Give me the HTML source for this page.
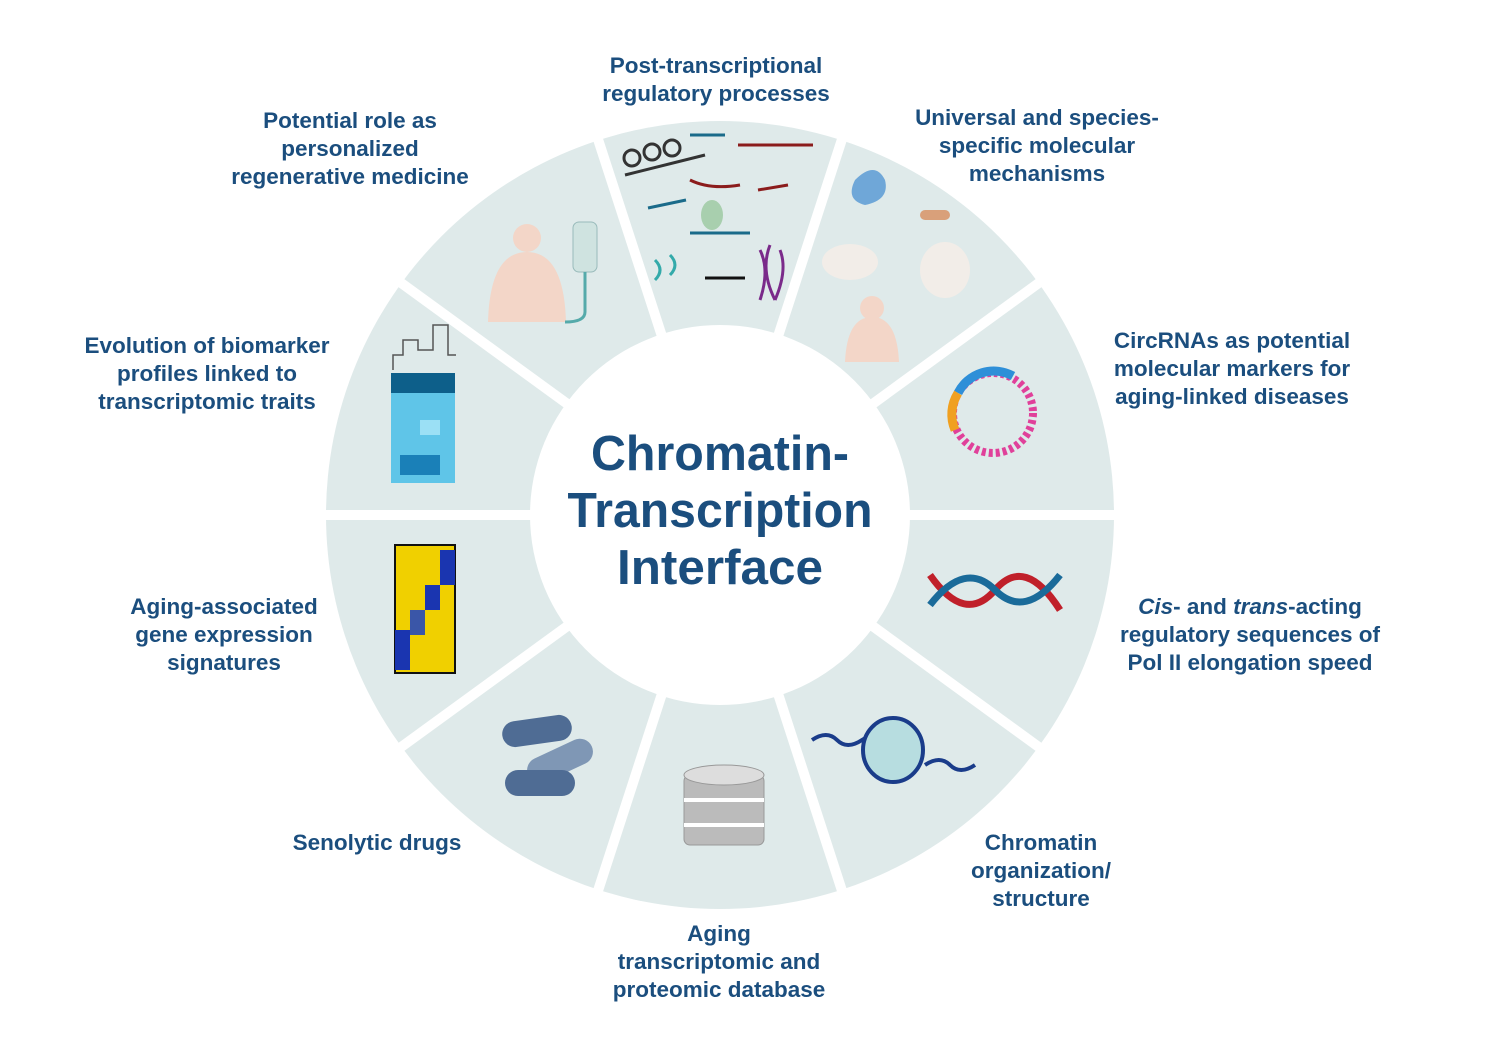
<!DOCTYPE html>
<html><head><meta charset="utf-8"><style>
body{margin:0;background:#fff;width:1500px;height:1050px;overflow:hidden;font-family:"Liberation Sans",sans-serif}
svg{position:absolute;left:0;top:0}
.l{position:absolute;color:#1b4e7e;font-weight:bold;font-size:22.5px;line-height:28px;text-align:center;white-space:nowrap;transform:translateX(-50%)}
</style></head><body>
<svg width="1500" height="1050" viewBox="0 0 1500 1050">
<circle cx="720" cy="515" r="394" fill="#dfeaea"/>
<g stroke="#fff" stroke-width="10">
<line x1="720" y1="515" x2="1125" y2="515"/><line x1="720" y1="515" x2="1047" y2="753"/>
<line x1="720" y1="515" x2="845" y2="900"/><line x1="720" y1="515" x2="595" y2="900"/>
<line x1="720" y1="515" x2="393" y2="753"/><line x1="720" y1="515" x2="315" y2="515"/>
<line x1="720" y1="515" x2="393" y2="277"/><line x1="720" y1="515" x2="595" y2="130"/>
<line x1="720" y1="515" x2="845" y2="130"/><line x1="720" y1="515" x2="1047" y2="277"/>
</g>
<circle cx="720" cy="515" r="190" fill="#fff"/>
<g font-size="49" font-weight="bold" fill="#1b4e7e" font-family="Liberation Sans" text-anchor="middle">
<text x="720" y="470" textLength="258" lengthAdjust="spacingAndGlyphs">Chromatin-</text>
<text x="720" y="527" textLength="305" lengthAdjust="spacingAndGlyphs">Transcription</text>
<text x="720" y="584" textLength="206" lengthAdjust="spacingAndGlyphs">Interface</text>
</g>
<g fill="none" stroke-width="3">
<path d="M625 175 l80 -20" stroke="#333"/><circle cx="632" cy="158" r="8" stroke="#333"/><circle cx="652" cy="152" r="8" stroke="#333"/><circle cx="672" cy="148" r="8" stroke="#333"/>
<path d="M690 135 h35" stroke="#1a6b8a"/><path d="M738 145 h75" stroke="#8b1c1c"/>
<path d="M690 180 q20 10 50 5" stroke="#8b1c1c"/><path d="M648 208 l38 -8" stroke="#1a6b8a"/>
<path d="M690 233 h60" stroke="#1a6b8a"/><path d="M705 278 h40" stroke="#111"/>
<path d="M760 250 q10 20 0 50 M770 245 q-10 25 5 55 M780 250 q8 20 -5 50" stroke="#7a2a8a"/>
<path d="M655 260 q10 10 0 20 M670 255 q10 10 0 20" stroke="#3aa"/>
<path d="M758 190 l30 -5" stroke="#8b1c1c"/>
</g>
<ellipse cx="712" cy="215" rx="11" ry="15" fill="#a8cfae"/>
<path d="M855 180 q20 -20 30 0 q5 20 -20 25 q-20 -5 -10 -25" fill="#6fa7d8"/>
<rect x="920" y="210" width="30" height="10" rx="5" fill="#d9a07a"/>
<ellipse cx="850" cy="262" rx="28" ry="18" fill="#f2ede8"/><ellipse cx="945" cy="270" rx="25" ry="28" fill="#f2ede8"/>
<circle cx="872" cy="308" r="12" fill="#f3d6c8"/><path d="M845 362 q2 -45 27 -45 q25 0 27 45z" fill="#f3d6c8"/>
<circle cx="993" cy="413" r="40" fill="none" stroke="#e0409a" stroke-width="8" stroke-dasharray="4 3"/>
<path d="M958 393 a40 40 0 0 1 55 -17" fill="none" stroke="#2e8fd8" stroke-width="9"/>
<path d="M955 430 a40 40 0 0 1 3 -37" fill="none" stroke="#f0a020" stroke-width="9"/>
<path d="M930 575 q35 50 65 15 t65 20" fill="none" stroke="#c0202a" stroke-width="7"/>
<path d="M930 605 q35 -45 65 -15 t65 -15" fill="none" stroke="#1a6b9a" stroke-width="7"/>
<path d="M812 740 q15 -10 25 0 t25 0 t25 0" fill="none" stroke="#1a3c8a" stroke-width="4"/>
<ellipse cx="893" cy="750" rx="30" ry="32" fill="#b7dde0" stroke="#1a3c8a" stroke-width="4"/>
<path d="M925 765 q15 -10 25 0 t25 0" fill="none" stroke="#1a3c8a" stroke-width="4"/>
<g fill="#bbb" stroke="#999"><rect x="684" y="775" width="80" height="70" rx="6"/><ellipse cx="724" cy="775" rx="40" ry="10" fill="#ddd"/></g>
<line x1="684" y1="800" x2="764" y2="800" stroke="#fff" stroke-width="4"/><line x1="684" y1="825" x2="764" y2="825" stroke="#fff" stroke-width="4"/>
<g><rect x="502" y="718" width="70" height="26" rx="13" fill="#4f6c94" transform="rotate(-8 537 731)"/>
<rect x="525" y="748" width="70" height="26" rx="13" fill="#7f97b5" transform="rotate(-25 560 761)"/>
<rect x="505" y="770" width="70" height="26" rx="13" fill="#4f6c94"/></g>
<rect x="395" y="545" width="60" height="128" fill="#f0d000" stroke="#111" stroke-width="2"/>
<rect x="425" y="585" width="15" height="25" fill="#1a35b0"/><rect x="440" y="550" width="15" height="35" fill="#1a35b0"/>
<rect x="395" y="630" width="15" height="40" fill="#1a35b0"/><rect x="410" y="610" width="15" height="25" fill="#3a56a8"/>
<path d="M393 370 v-15 h10 v-15 h15 v10 h15 v-25 h15 v30 h8" fill="none" stroke="#555" stroke-width="1.5"/>
<rect x="391" y="373" width="64" height="110" fill="#5fc5e8"/>
<rect x="391" y="373" width="64" height="20" fill="#0d5f8a"/><rect x="420" y="420" width="20" height="15" fill="#9be0f5"/><rect x="400" y="455" width="40" height="20" fill="#1a80b8"/>
<circle cx="527" cy="238" r="14" fill="#f3d6c8"/><path d="M488 322 q2 -70 39 -70 q37 0 39 70z" fill="#f3d6c8"/>
<rect x="573" y="222" width="24" height="50" rx="6" fill="#cfe3e0" stroke="#9bb" /><path d="M585 272 v40 q0 10 -20 10" fill="none" stroke="#5aa" stroke-width="3"/>
</svg>
<div class="l" style="left:716px;top:52px">Post-transcriptional<br>regulatory processes</div>
<div class="l" style="left:350px;top:107px">Potential role as<br>personalized<br>regenerative medicine</div>
<div class="l" style="left:1037px;top:104px">Universal and species-<br>specific molecular<br>mechanisms</div>
<div class="l" style="left:207px;top:332px">Evolution of biomarker<br>profiles linked to<br>transcriptomic traits</div>
<div class="l" style="left:1232px;top:327px">CircRNAs as potential<br>molecular markers for<br>aging-linked diseases</div>
<div class="l" style="left:224px;top:593px">Aging-associated<br>gene expression<br>signatures</div>
<div class="l" style="left:1250px;top:593px"><i>Cis</i>- and <i>trans</i>-acting<br>regulatory sequences of<br>Pol II elongation speed</div>
<div class="l" style="left:377px;top:829px">Senolytic drugs</div>
<div class="l" style="left:1041px;top:829px">Chromatin<br>organization/<br>structure</div>
<div class="l" style="left:719px;top:920px">Aging<br>transcriptomic and<br>proteomic database</div>
</body></html>
